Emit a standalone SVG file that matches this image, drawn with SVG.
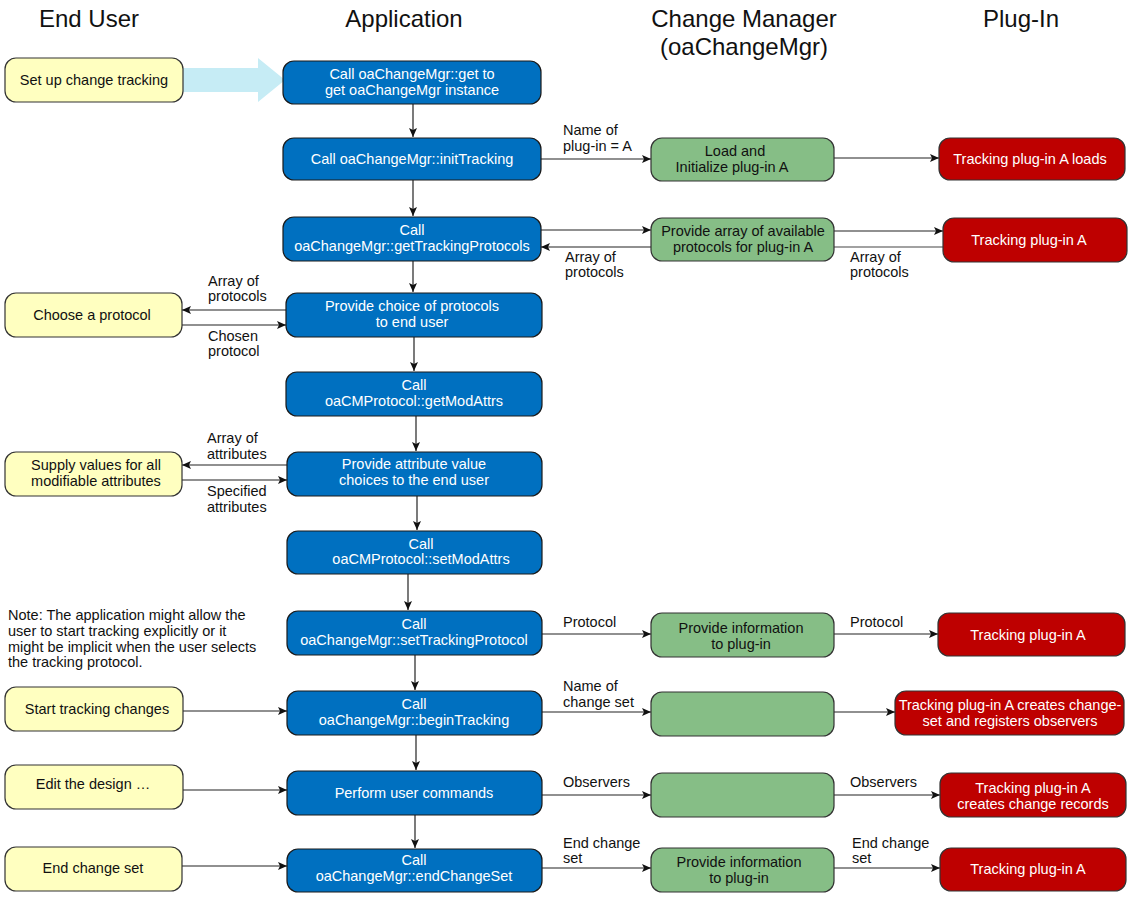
<svg xmlns="http://www.w3.org/2000/svg" width="1132" height="899" viewBox="0 0 1132 899">
<defs>
<marker id="ah" markerWidth="10" markerHeight="8" refX="9" refY="4" orient="auto" markerUnits="userSpaceOnUse">
<path d="M0,0 L9,4 L0,8 L2,4 Z" fill="#111"/>
</marker>
<style>
text{font-family:"Liberation Sans",Arial,sans-serif;}
.hd{font-size:24px;fill:#111;text-anchor:middle;}
.lb{font-size:14.5px;fill:#111;}
.nt{font-size:14.5px;fill:#111;text-anchor:middle;}
.wt{font-size:14.5px;fill:#fff;text-anchor:middle;}
.y{fill:#FFFFC0;stroke:#333;stroke-width:1.2;}
.b{fill:#0070C0;stroke:#1a1a1a;stroke-width:1.2;}
.g{fill:#86BE86;stroke:#333;stroke-width:1.2;}
.r{fill:#BE0000;stroke:#333;stroke-width:1.2;}
.c{stroke:#222;stroke-width:1.2;fill:none;marker-end:url(#ah);}
.cn{stroke:#444;stroke-width:1.2;fill:none;}
</style>
</defs>
<rect width="1132" height="899" fill="#fff"/>
<g id="headers">
<text class="hd" x="89" y="27">End User</text>
<text class="hd" x="404" y="27">Application</text>
<text class="hd" x="744" y="27">Change Manager</text>
<text class="hd" x="744" y="55">(oaChangeMgr)</text>
<text class="hd" x="1021" y="27">Plug-In</text>
</g>
<g id="connectors">
<path d="M183,68 L258,68 L258,58 L285,80 L258,102 L258,92 L183,92 Z" fill="#C6ECF5"/>
<line class="c" x1="413" y1="104" x2="413" y2="137"/>
<line class="c" x1="541" y1="159" x2="651" y2="159"/>
<line class="c" x1="834" y1="158" x2="939" y2="158"/>
<line class="c" x1="413" y1="180" x2="413" y2="216"/>
<line class="c" x1="541" y1="230" x2="651" y2="230"/>
<line class="c" x1="651" y1="247" x2="541" y2="247"/>
<line class="c" x1="834" y1="231" x2="943" y2="231"/>
<line class="cn" x1="943" y1="247" x2="834" y2="247"/>
<line class="c" x1="413" y1="261" x2="413" y2="292"/>
<line class="c" x1="286" y1="310" x2="182" y2="310"/>
<line class="c" x1="182" y1="325" x2="286" y2="325"/>
<line class="c" x1="414" y1="337" x2="414" y2="371"/>
<line class="c" x1="416" y1="416" x2="416" y2="451"/>
<line class="c" x1="287" y1="465" x2="182" y2="465"/>
<line class="c" x1="182" y1="480" x2="287" y2="480"/>
<line class="c" x1="417" y1="496" x2="417" y2="530"/>
<line class="c" x1="408" y1="574" x2="408" y2="610"/>
<line class="c" x1="542" y1="634" x2="651" y2="634"/>
<line class="c" x1="834" y1="634" x2="938" y2="634"/>
<line class="c" x1="415" y1="655" x2="415" y2="690"/>
<line class="c" x1="183" y1="711" x2="287" y2="711"/>
<line class="c" x1="542" y1="712" x2="651" y2="712"/>
<line class="c" x1="834" y1="712" x2="895" y2="712"/>
<line class="c" x1="416" y1="735" x2="416" y2="770"/>
<line class="c" x1="183" y1="790" x2="287" y2="790"/>
<line class="c" x1="542" y1="795" x2="651" y2="795"/>
<line class="c" x1="834" y1="795" x2="940" y2="795"/>
<line class="c" x1="415" y1="815" x2="415" y2="848"/>
<line class="c" x1="182" y1="866" x2="287" y2="866"/>
<line class="c" x1="542" y1="868" x2="651" y2="868"/>
<line class="c" x1="834" y1="868" x2="940" y2="868"/>
<text class="lb" x="563" y="135">Name of</text>
<text class="lb" x="563" y="151">plug-in = A</text>
<text class="lb" x="565" y="262">Array of</text>
<text class="lb" x="565" y="277">protocols</text>
<text class="lb" x="850" y="262">Array of</text>
<text class="lb" x="850" y="277">protocols</text>
<text class="lb" x="208" y="286">Array of</text>
<text class="lb" x="208" y="301">protocols</text>
<text class="lb" x="208" y="341">Chosen</text>
<text class="lb" x="208" y="356">protocol</text>
<text class="lb" x="207" y="443">Array of</text>
<text class="lb" x="207" y="459">attributes</text>
<text class="lb" x="207" y="496">Specified</text>
<text class="lb" x="207" y="512">attributes</text>
<text class="lb" x="563" y="627">Protocol</text>
<text class="lb" x="850" y="627">Protocol</text>
<text class="lb" x="563" y="691">Name of</text>
<text class="lb" x="563" y="707">change set</text>
<text class="lb" x="563" y="787">Observers</text>
<text class="lb" x="850" y="787">Observers</text>
<text class="lb" x="563" y="848">End change</text>
<text class="lb" x="563" y="863">set</text>
<text class="lb" x="852" y="848">End change</text>
<text class="lb" x="852" y="863">set</text>
</g>
<g id="note">
<text class="lb" x="8" y="620">Note: The application might allow the</text>
<text class="lb" x="8" y="636">user to start tracking explicitly or it</text>
<text class="lb" x="8" y="652">might be implicit when the user selects</text>
<text class="lb" x="8" y="667">the tracking protocol.</text>
</g>
<g id="u1"><rect class="y" x="5" y="58" width="178" height="44" rx="11"/><text class="nt" x="94" y="85">Set up change tracking</text></g>
<g id="u2"><rect class="y" x="5" y="293" width="177" height="44" rx="11"/><text class="nt" x="92" y="320">Choose a protocol</text></g>
<g id="u3"><rect class="y" x="5" y="452" width="177" height="44" rx="11"/><text class="nt" x="96" y="470">Supply values for all</text><text class="nt" x="96" y="486">modifiable attributes</text></g>
<g id="u4"><rect class="y" x="5" y="687" width="178" height="44" rx="11"/><text class="nt" x="97" y="714">Start tracking changes</text></g>
<g id="u5"><rect class="y" x="5" y="765" width="178" height="44" rx="11"/><text class="nt" x="93" y="789">Edit the design …</text></g>
<g id="u6"><rect class="y" x="5" y="847" width="177" height="44" rx="11"/><text class="nt" x="93" y="873">End change set</text></g>
<g id="a1"><rect class="b" x="283" y="61" width="258" height="43" rx="11"/><text class="wt" x="412" y="79">Call oaChangeMgr::get to</text><text class="wt" x="412" y="95">get oaChangeMgr instance</text></g>
<g id="a2"><rect class="b" x="283" y="138" width="258" height="42" rx="11"/><text class="wt" x="412" y="164">Call oaChangeMgr::initTracking</text></g>
<g id="a3"><rect class="b" x="283" y="217" width="258" height="44" rx="11"/><text class="wt" x="412" y="235">Call</text><text class="wt" x="412" y="251">oaChangeMgr::getTrackingProtocols</text></g>
<g id="a4"><rect class="b" x="286" y="293" width="256" height="44" rx="11"/><text class="wt" x="412" y="311">Provide choice of protocols</text><text class="wt" x="412" y="327">to end user</text></g>
<g id="a5"><rect class="b" x="286" y="372" width="256" height="44" rx="11"/><text class="wt" x="414" y="390">Call</text><text class="wt" x="414" y="406">oaCMProtocol::getModAttrs</text></g>
<g id="a6"><rect class="b" x="287" y="452" width="255" height="44" rx="11"/><text class="wt" x="414" y="469">Provide attribute value</text><text class="wt" x="414" y="485">choices to the end user</text></g>
<g id="a7"><rect class="b" x="287" y="531" width="255" height="43" rx="11"/><text class="wt" x="421" y="549">Call</text><text class="wt" x="421" y="564">oaCMProtocol::setModAttrs</text></g>
<g id="a8"><rect class="b" x="287" y="611" width="255" height="44" rx="11"/><text class="wt" x="414" y="629">Call</text><text class="wt" x="414" y="645">oaChangeMgr::setTrackingProtocol</text></g>
<g id="a9"><rect class="b" x="287" y="691" width="255" height="44" rx="11"/><text class="wt" x="414" y="709">Call</text><text class="wt" x="414" y="725">oaChangeMgr::beginTracking</text></g>
<g id="a10"><rect class="b" x="287" y="771" width="255" height="44" rx="11"/><text class="wt" x="414" y="798">Perform user commands</text></g>
<g id="a11"><rect class="b" x="287" y="849" width="255" height="43" rx="11"/><text class="wt" x="414" y="865">Call</text><text class="wt" x="414" y="881">oaChangeMgr::endChangeSet</text></g>
<g id="m1"><rect class="g" x="651" y="138" width="183" height="43" rx="11"/><text class="nt" x="735" y="156">Load and</text><text class="nt" x="732" y="172">Initialize plug-in A</text></g>
<g id="m2"><rect class="g" x="651" y="218" width="183" height="43" rx="11"/><text class="nt" x="743" y="236">Provide array of available</text><text class="nt" x="743" y="252">protocols for plug-in A</text></g>
<g id="m3"><rect class="g" x="651" y="613" width="183" height="44" rx="11"/><text class="nt" x="741" y="633">Provide information</text><text class="nt" x="741" y="649">to plug-in</text></g>
<g id="m4"><rect class="g" x="651" y="692" width="183" height="44" rx="11"/></g>
<g id="m5"><rect class="g" x="651" y="773" width="183" height="44" rx="11"/></g>
<g id="m6"><rect class="g" x="651" y="848" width="183" height="44" rx="11"/><text class="nt" x="739" y="867">Provide information</text><text class="nt" x="739" y="883">to plug-in</text></g>
<g id="p1"><rect class="r" x="939" y="138" width="186" height="42" rx="11"/><text class="wt" x="1030" y="164">Tracking plug-in A loads</text></g>
<g id="p2"><rect class="r" x="943" y="218" width="184" height="44" rx="11"/><text class="wt" x="1029" y="245">Tracking plug-in A</text></g>
<g id="p3"><rect class="r" x="938" y="613" width="187" height="43" rx="11"/><text class="wt" x="1028" y="640">Tracking plug-in A</text></g>
<g id="p4"><rect class="r" x="895" y="691" width="229" height="44" rx="11"/><text class="wt" x="1010" y="710" font-size="14">Tracking plug-in A creates change-</text><text class="wt" x="1010" y="726" font-size="14">set and registers observers</text></g>
<g id="p5"><rect class="r" x="940" y="773" width="186" height="44" rx="11"/><text class="wt" x="1033" y="793">Tracking plug-in A</text><text class="wt" x="1033" y="809">creates change records</text></g>
<g id="p6"><rect class="r" x="940" y="848" width="186" height="43" rx="11"/><text class="wt" x="1028" y="874">Tracking plug-in A</text></g>
</svg>
